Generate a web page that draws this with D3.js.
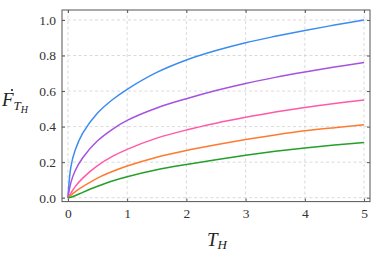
<!DOCTYPE html>
<html>
<head>
<meta charset="utf-8">
<script src="https://cdn.jsdelivr.net/npm/d3@7"></script>
<style>
  body { margin: 0; background: #fff; }
</style>
</head>
<body>
<div id="chart"></div>
<script>
const width = 374;
const height = 253;
const serif = "'Liberation Serif', 'DejaVu Serif', serif";

// sample points along T_H
const tValues = [0, 0.05, 0.12, 0.25, 0.5, 0.75, 1, 1.5, 2, 2.5, 3, 3.5, 4, 4.5, 5];
const blueVals   = [0, 0.174, 0.265, 0.363, 0.476, 0.551, 0.61, 0.705, 0.775, 0.828, 0.872, 0.908, 0.941, 0.971, 1.0];
const purpleVals = [0, 0.085, 0.15, 0.225, 0.32, 0.385, 0.435, 0.505, 0.557, 0.603, 0.643, 0.677, 0.707, 0.735, 0.76];
const pinkVals   = [0, 0.026, 0.061, 0.11, 0.18, 0.232, 0.272, 0.335, 0.381, 0.419, 0.452, 0.482, 0.508, 0.53, 0.55];
const orangeVals = [0, 0.014, 0.033, 0.062, 0.11, 0.147, 0.178, 0.228, 0.266, 0.298, 0.327, 0.353, 0.376, 0.394, 0.41];
const greenVals  = [0, 0.003, 0.011, 0.03, 0.064, 0.094, 0.118, 0.157, 0.187, 0.214, 0.239, 0.261, 0.28, 0.296, 0.31];

const xTicks = [0, 1, 2, 3, 4, 5];
const yTicks = [0, 0.2, 0.4, 0.6, 0.8, 1.0];

const series = [
  {vals: blueVals, color: "#3b8cf2"},
  {vals: purpleVals, color: "#a552e0"},
  {vals: pinkVals, color: "#ff5aa8"},
  {vals: orangeVals, color: "#ff7a30"},
  {vals: greenVals, color: "#22a02a"}
];

const m = {left: 62, right: 370, top: 10, bottom: 201.6};

const x = d3.scaleLinear().domain([-0.1, 5.1]).range([m.left, m.right]);
const y = d3.scaleLinear().domain([-0.022, 1.056]).range([m.bottom, m.top]);

const svg = d3.select("#chart")
  .append("svg")
  .attr("width", width)
  .attr("height", height);

// grid
const grid = svg.append("g")
  .attr("stroke", "#d0d0d0")
  .attr("stroke-width", 0.8)
  .attr("stroke-dasharray", "3,2.5");

grid.selectAll("line.gx")
  .data(xTicks)
  .enter()
  .append("line")
  .attr("class", "gx")
  .attr("x1", d => x(d)).attr("x2", d => x(d))
  .attr("y1", m.top).attr("y2", m.bottom);

grid.selectAll("line.gy")
  .data(yTicks)
  .enter()
  .append("line")
  .attr("class", "gy")
  .attr("y1", d => y(d)).attr("y2", d => y(d))
  .attr("x1", m.left).attr("x2", m.right);

// curves
const line = d3.line()
  .x((d, i) => x(tValues[i]))
  .y(d => y(d))
  .curve(d3.curveCatmullRom.alpha(0.5));

svg.selectAll("path.curve")
  .data(series)
  .enter()
  .append("path")
  .attr("class", "curve")
  .attr("d", d => line(d.vals))
  .attr("fill", "none")
  .attr("stroke", d => d.color)
  .attr("stroke-width", 1.5);

// axes (ticks inside, mirrored)
const tickLen = 3;
const axisColor = "#555";

svg.append("g")
  .attr("transform", `translate(0,${m.bottom})`)
  .call(d3.axisBottom(x).tickValues(xTicks).tickSize(-tickLen).tickPadding(7).tickFormat(d3.format("d")))
  .call(g => g.select(".domain").remove());

svg.append("g")
  .attr("transform", `translate(0,${m.top})`)
  .call(d3.axisTop(x).tickValues(xTicks).tickSize(-tickLen).tickFormat(""))
  .call(g => g.select(".domain").remove());

svg.append("g")
  .attr("transform", `translate(${m.left},0)`)
  .call(d3.axisLeft(y).tickValues(yTicks).tickSize(-tickLen).tickPadding(6).tickFormat(d3.format(".1f")))
  .call(g => g.select(".domain").remove());

svg.append("g")
  .attr("transform", `translate(${m.right},0)`)
  .call(d3.axisRight(y).tickValues(yTicks).tickSize(-tickLen).tickFormat(""))
  .call(g => g.select(".domain").remove());

svg.selectAll(".tick line").attr("stroke", axisColor);
svg.selectAll(".tick text")
  .style("font-family", serif)
  .style("font-size", "13.5px")
  .style("fill", "#333");

// frame
svg.append("rect")
  .attr("x", m.left).attr("y", m.top)
  .attr("width", m.right - m.left).attr("height", m.bottom - m.top)
  .attr("fill", "none")
  .attr("stroke", axisColor)
  .attr("stroke-width", 1);

// x label
const xl = svg.append("text")
  .attr("x", 207)
  .attr("y", 246)
  .style("font-family", serif)
  .style("font-size", "19px")
  .style("font-style", "italic")
  .style("fill", "#222");
xl.append("tspan").text("T");
xl.append("tspan").style("font-size", "13px").attr("dy", 3).text("H");

// y label
const yl = svg.append("text")
  .attr("x", 2)
  .attr("y", 106)
  .style("font-family", serif)
  .style("font-size", "19px")
  .style("font-style", "italic")
  .style("fill", "#222");
yl.append("tspan").text("F");
yl.append("tspan").style("font-size", "13px").attr("dy", 4).text("T");
yl.append("tspan").style("font-size", "10px").attr("dy", 3).text("H");
// dot over F
svg.append("circle")
  .attr("cx", 12)
  .attr("cy", 90)
  .attr("r", 1.1)
  .attr("fill", "#222");
</script>
</body>
</html>
